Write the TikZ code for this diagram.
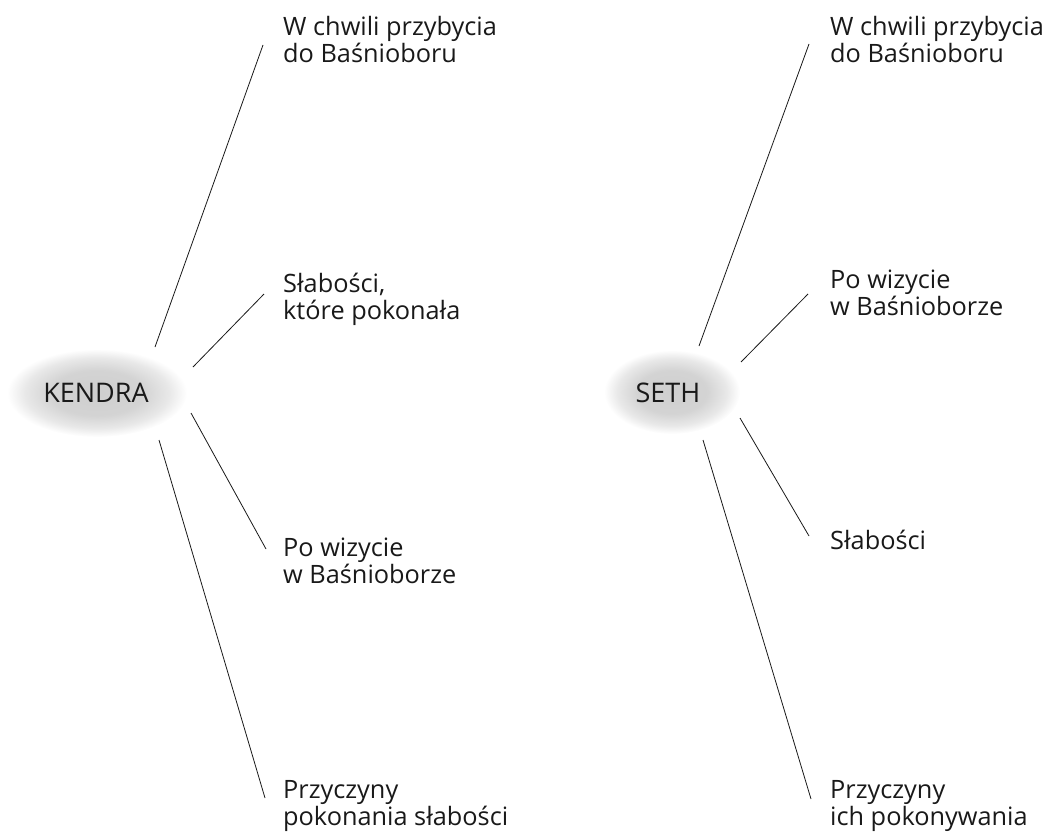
\documentclass[tikz,border=0pt]{standalone}
\usepackage{fontspec}
\setmainfont{Open Sans}
\pgfdeclareradialshading{blob}{\pgfpoint{0bp}{0bp}}{%
  color(0bp)=(black!19); color(13bp)=(black!17); color(20bp)=(black!9); color(25bp)=(white); color(50bp)=(white)}
\begin{document}
\begin{tikzpicture}[x=1pt,y=-1pt,
  lab/.style={anchor=base west, align=left, inner sep=0pt, text=black!90,
    font=\fontsize{25.3}{27}\selectfont},
  hub/.style={inner sep=0pt, text=black!90, font=\fontsize{27}{30}\selectfont},
  conn/.style={draw=black!90, line width=0.8pt}]
\useasboundingbox (0,0) rectangle (1059,835);
% blobs
\shade[shading=blob] (97,393) ellipse [x radius=90, y radius=44];
\shade[shading=blob] (672,392) ellipse [x radius=68, y radius=42];
% hubs
\node[hub] (kendra) at (96,393) {KENDRA};
\node[hub] (seth) at (668,393) {SETH};
% labels Kendra (anchor = baseline of last line)
\node[lab] (k1) at (283,62) {W chwili przybycia\\do Baśnioboru};
\node[lab] (k2) at (283,319) {Słabości,\\które pokonała};
\node[lab] (k3) at (283,583) {Po wizycie\\w Baśnioborze};
\node[lab] (k4) at (283,825) {Przyczyny\\pokonania słabości};
% labels Seth
\node[lab] (s1) at (830,62) {W chwili przybycia\\do Baśnioboru};
\node[lab] (s2) at (830,315) {Po wizycie\\w Baśnioborze};
\node[lab] (s3) at (830,549) {Słabości};
\node[lab] (s4) at (830,825) {Przyczyny\\ich pokonywania};
% connector ends
\coordinate (ka1) at (155,347); \coordinate (kb1) at (263,45);
\coordinate (ka2) at (193,367); \coordinate (kb2) at (264,294);
\coordinate (ka3) at (191,413); \coordinate (kb3) at (266,549);
\coordinate (ka4) at (159,440); \coordinate (kb4) at (265,798);
\coordinate (sa1) at (699,346); \coordinate (sb1) at (809,44);
\coordinate (sa2) at (741,362); \coordinate (sb2) at (808,294);
\coordinate (sa3) at (740,418); \coordinate (sb3) at (809,536);
\coordinate (sa4) at (703,440); \coordinate (sb4) at (811,799);
\draw[conn] (ka1) -- (kb1);
\draw[conn] (ka2) -- (kb2);
\draw[conn] (ka3) -- (kb3);
\draw[conn] (ka4) -- (kb4);
\draw[conn] (sa1) -- (sb1);
\draw[conn] (sa2) -- (sb2);
\draw[conn] (sa3) -- (sb3);
\draw[conn] (sa4) -- (sb4);
\end{tikzpicture}
\end{document}
